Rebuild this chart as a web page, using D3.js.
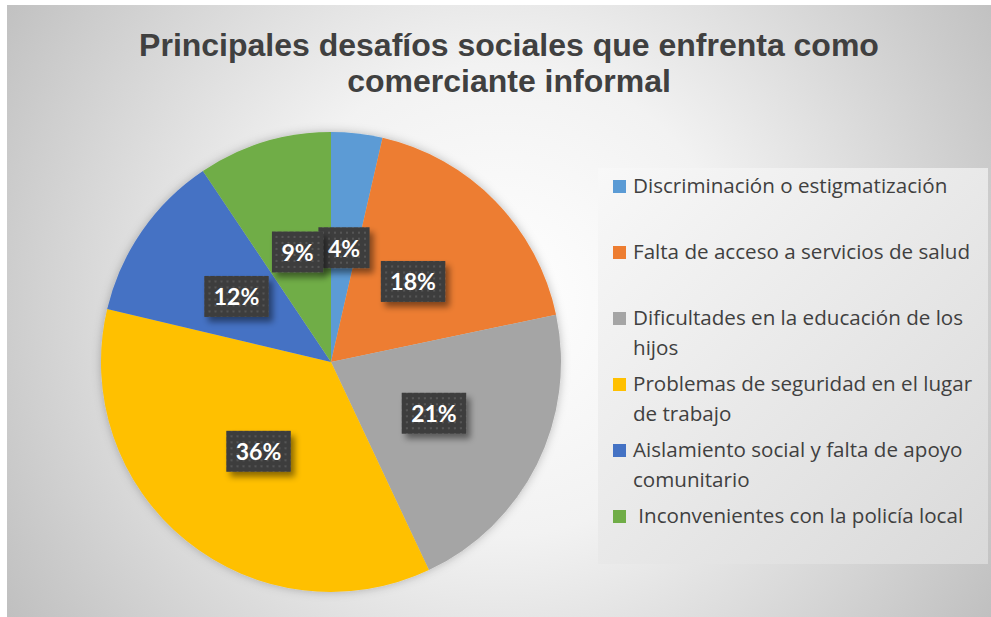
<!DOCTYPE html>
<html>
<head>
<meta charset="utf-8">
<script src="https://cdn.jsdelivr.net/npm/d3@7"></script>
<style>
  html, body { margin: 0; padding: 0; background: #ffffff; }
  svg { display: block; }
</style>
</head>
<body>
<svg id="chart" width="991" height="617"></svg>
<script>
// ---- data ----
const titleLines = ["Principales desafíos sociales que enfrenta como", "comerciante informal"];
const categories = [
  "Discriminación o estigmatización",
  "Falta de acceso a servicios de salud",
  "Dificultades en la educación de los\nhijos",
  "Problemas de seguridad en el lugar\nde trabajo",
  "Aislamiento social y falta de apoyo\ncomunitario",
  " Inconvenientes con la policía local"
];
const values = [3.6, 18.1, 21.3, 35.7, 11.9, 9.4];
const colors = ["#5B9BD5", "#ED7D31", "#A5A5A5", "#FFC000", "#4472C4", "#70AD47"];

// ---- layout ----
const W = 991, H = 617;
const svg = d3.select("#chart");
const defs = svg.append("defs");

const bg = defs.append("radialGradient").attr("id", "bg")
  .attr("gradientUnits", "userSpaceOnUse")
  .attr("cx", 500).attr("cy", 300).attr("r", 590);
bg.append("stop").attr("offset", 0).attr("stop-color", "#ffffff");
bg.append("stop").attr("offset", 0.4).attr("stop-color", "#f2f2f2");
bg.append("stop").attr("offset", 1).attr("stop-color", "#bfbfbf");

const lg = defs.append("linearGradient").attr("id", "lg")
  .attr("x1", 0).attr("y1", 0).attr("x2", 1).attr("y2", 1);
lg.append("stop").attr("offset", 0).attr("stop-color", "#f8f8f8");
lg.append("stop").attr("offset", 1).attr("stop-color", "#d9d9d9");

const pat = defs.append("pattern").attr("id", "dots")
  .attr("patternUnits", "userSpaceOnUse").attr("width", 6).attr("height", 6);
pat.append("rect").attr("width", 6).attr("height", 6).attr("fill", "#3e3e3e");
pat.append("rect").attr("x", 2).attr("y", 2).attr("width", 2).attr("height", 2).attr("fill", "#555555");

const sh = defs.append("filter").attr("id", "boxShadow")
  .attr("x", "-30%").attr("y", "-30%").attr("width", "170%").attr("height", "170%");
sh.append("feDropShadow").attr("dx", 4).attr("dy", 5).attr("stdDeviation", 3)
  .attr("flood-color", "#000").attr("flood-opacity", 0.45);

const psh = defs.append("filter").attr("id", "pieShadow")
  .attr("x", "-10%").attr("y", "-10%").attr("width", "120%").attr("height", "120%");
psh.append("feDropShadow").attr("dx", 0).attr("dy", 0).attr("stdDeviation", 5)
  .attr("flood-color", "#000").attr("flood-opacity", 0.25);

// chart area background
svg.append("rect").attr("x", 7).attr("y", 5).attr("width", W - 7).attr("height", H - 5)
  .attr("fill", "url(#bg)");

// title
svg.append("g").selectAll("text").data(titleLines).join("text")
  .attr("x", 509).attr("y", (d, i) => 56 + i * 36)
  .attr("text-anchor", "middle")
  .attr("font-family", "'Liberation Sans', Arial, sans-serif")
  .attr("font-weight", "bold").attr("font-size", 32)
  .attr("fill", "#404040")
  .text(d => d);

// pie
const cx = 331, cy = 362, R = 230;
const pie = d3.pie().sort(null).value(d => d);
const arcs = pie(values);
const arc = d3.arc().innerRadius(0).outerRadius(R);
const gPie = svg.append("g").attr("transform", `translate(${cx},${cy})`);
gPie.append("g").attr("filter", "url(#pieShadow)")
  .selectAll("path").data(arcs).join("path")
  .attr("d", arc).attr("fill", (d, i) => colors[i]);

// data labels
const fmt = d3.format(".0f");
const total = d3.sum(values);
const lab = gPie.append("g").selectAll("g").data(arcs).join("g")
  .attr("transform", d => `translate(${arc.centroid(d)})`);
lab.append("text")
  .attr("text-anchor", "middle").attr("y", 9)
  .attr("font-family", "Lato, 'Open Sans', sans-serif")
  .attr("font-weight", "bold").attr("font-size", 23)
  .attr("fill", "#ffffff")
  .text(d => fmt(d.value / total * 100) + "%");
lab.each(function() {
  const g = d3.select(this);
  const w = g.select("text").node().getComputedTextLength() + 19;
  g.insert("rect", "text")
    .attr("x", -w / 2).attr("y", -20.5).attr("width", w).attr("height", 41)
    .attr("fill", "url(#dots)").attr("filter", "url(#boxShadow)");
});

// legend
const legX = 598, legY = 168, legW = 390, legH = 396;
svg.append("rect").attr("x", legX).attr("y", legY).attr("width", legW).attr("height", legH)
  .attr("fill", "url(#lg)");
const leg = svg.append("g").selectAll("g").data(categories).join("g")
  .attr("transform", (d, i) => `translate(613, ${193 + i * 66})`);
leg.append("rect").attr("x", 0).attr("y", -13).attr("width", 13).attr("height", 13)
  .attr("fill", (d, i) => colors[i]);
leg.append("text")
  .attr("font-family", "'Open Sans', Lato, sans-serif").attr("font-size", 20.6)
  .attr("fill", "#404040")
  .style("white-space", "pre")
  .selectAll("tspan").data(d => d.split("\n")).join("tspan")
  .attr("x", 20).attr("dy", (d, j) => j === 0 ? 0 : 30)
  .text(d => d);
</script>
</body>
</html>
